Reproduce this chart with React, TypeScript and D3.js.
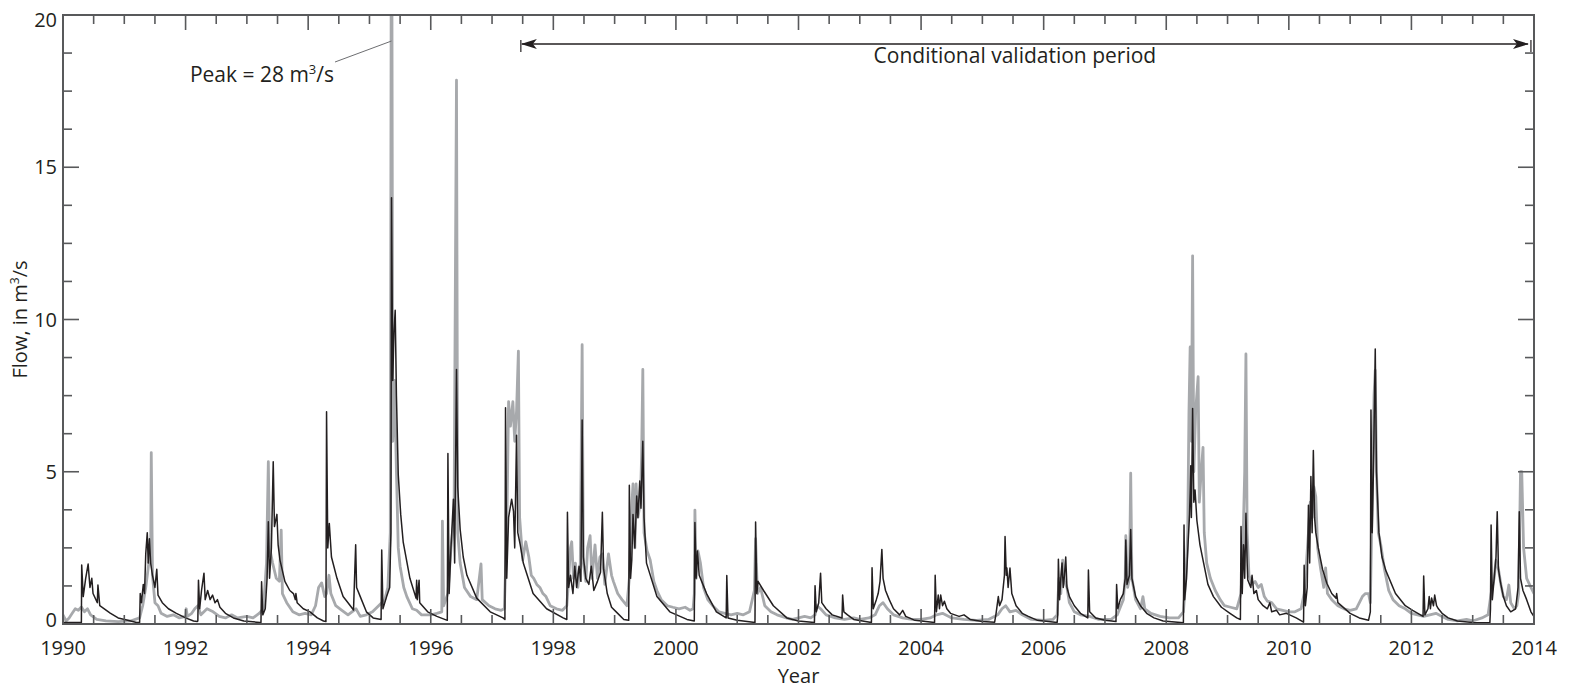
import React from 'react';
import * as d3 from 'd3';

// Observed flow (gray), [decimal year, m3/s]
const observed: [number, number][] = [
  [1990.0,0.3],[1990.05,0.1],[1990.1,0.2],[1990.15,0.35],[1990.2,0.5],[1990.25,0.45],[1990.3,0.56],[1990.35,0.4],[1990.4,0.5],[1990.45,0.3],[1990.55,0.15],[1990.7,0.1],[1990.9,0.08],[1991.1,0.1],[1991.25,0.2],
  [1991.3,0.6],[1991.35,1.2],[1991.4,2.0],[1991.43,2.3],[1991.44,5.63],[1991.46,1.6],[1991.5,0.7],[1991.55,0.6],[1991.6,0.35],[1991.7,0.25],[1991.8,0.3],[1991.9,0.2],[1992.0,0.25],[1992.01,0.5],[1992.03,0.25],[1992.1,0.35],[1992.15,0.5],[1992.2,0.6],[1992.25,0.3],[1992.35,0.5],[1992.45,0.4],[1992.55,0.25],[1992.65,0.2],[1992.75,0.3],[1992.85,0.2],[1993.0,0.25],[1993.1,0.2],[1993.2,0.35],
  [1993.27,0.5],[1993.32,2.0],[1993.35,5.33],[1993.37,2.5],[1993.42,2.0],[1993.48,1.5],[1993.53,1.4],[1993.56,3.08],[1993.58,1.0],[1993.65,0.7],[1993.75,0.4],[1993.85,0.3],[1993.95,0.35],[1994.05,0.3],[1994.12,0.6],[1994.17,1.2],[1994.22,1.35],[1994.27,0.9],[1994.3,1.0],[1994.34,1.6],[1994.37,1.0],[1994.45,0.6],[1994.55,0.45],[1994.65,0.3],[1994.78,0.5],[1994.85,0.25],[1994.95,0.3],[1995.05,0.4],[1995.15,0.6],[1995.25,0.8],[1995.3,1.2],[1995.34,3.0],
  [1995.36,28],[1995.38,6.0],[1995.41,8.0],[1995.44,5.0],[1995.47,2.5],[1995.5,1.9],[1995.56,1.2],[1995.61,0.9],[1995.7,0.5],[1995.77,0.45],[1995.85,0.3],[1996.0,0.3],[1996.1,0.35],[1996.18,0.4],[1996.19,3.38],[1996.21,0.6],[1996.28,1.0],[1996.33,2.5],[1996.38,3.5],[1996.42,17.86],[1996.44,3.0],[1996.48,2.0],[1996.55,1.2],[1996.65,0.9],[1996.75,0.8],[1996.82,1.97],[1996.84,0.8],[1996.95,0.6],[1997.05,0.5],[1997.15,0.45],[1997.2,0.5],
  [1997.24,3.0],[1997.27,7.3],[1997.3,6.5],[1997.34,7.3],[1997.37,6.0],[1997.4,7.0],[1997.43,8.96],[1997.45,3.5],[1997.5,2.1],[1997.55,2.7],[1997.6,2.2],[1997.64,1.6],[1997.68,1.5],[1997.73,1.3],[1997.78,1.2],[1997.83,1.0],[1997.88,0.9],[1997.95,0.6],[1998.05,0.5],[1998.15,0.45],[1998.22,0.6],
  [1998.25,1.5],[1998.28,2.5],[1998.3,2.7],[1998.33,1.5],[1998.36,2.0],[1998.4,1.2],[1998.44,2.0],[1998.47,9.17],[1998.49,2.0],[1998.53,1.4],[1998.56,2.5],[1998.6,2.9],[1998.63,1.5],[1998.68,2.6],[1998.72,1.5],[1998.76,2.2],[1998.8,2.3],[1998.84,1.3],[1998.9,2.3],[1998.95,1.6],[1998.98,1.4],[1999.05,1.0],[1999.12,0.8],[1999.2,0.6],
  [1999.24,1.5],[1999.27,3.5],[1999.3,4.6],[1999.33,2.5],[1999.35,4.6],[1999.38,3.5],[1999.42,4.0],[1999.44,5.5],[1999.46,8.36],[1999.48,3.0],[1999.53,2.4],[1999.58,2.1],[1999.64,1.4],[1999.69,1.1],[1999.76,0.8],[1999.86,0.6],[1999.95,0.55],[2000.05,0.5],[2000.15,0.55],[2000.23,0.45],[2000.28,0.5],
  [2000.3,1.0],[2000.31,3.74],[2000.33,1.5],[2000.36,2.4],[2000.4,2.0],[2000.45,1.2],[2000.52,0.8],[2000.6,0.6],[2000.7,0.4],[2000.8,0.35],[2000.9,0.3],[2001.0,0.35],[2001.1,0.3],[2001.2,0.4],[2001.28,1.1],[2001.3,2.8],[2001.33,1.0],[2001.38,1.2],[2001.45,0.6],[2001.55,0.4],[2001.65,0.3],[2001.8,0.2],[2001.9,0.15],[2002.0,0.2],[2002.1,0.25],[2002.2,0.2],
  [2002.27,0.3],[2002.3,0.6],[2002.36,0.5],[2002.45,0.3],[2002.6,0.2],[2002.75,0.15],[2002.9,0.2],[2003.0,0.15],[2003.15,0.2],[2003.25,0.3],[2003.32,0.6],[2003.38,0.7],[2003.45,0.5],[2003.55,0.3],[2003.7,0.2],[2003.85,0.15],[2004.0,0.15],[2004.15,0.2],[2004.25,0.3],[2004.35,0.35],[2004.5,0.2],[2004.7,0.15],[2004.9,0.12],[2005.1,0.15],
  [2005.25,0.3],[2005.32,0.5],[2005.38,0.6],[2005.45,0.4],[2005.55,0.45],[2005.65,0.3],[2005.8,0.15],[2006.0,0.12],[2006.15,0.15],[2006.22,0.3],[2006.25,1.5],[2006.28,1.0],[2006.31,2.1],[2006.34,1.4],[2006.38,1.2],[2006.42,0.7],[2006.5,0.4],[2006.6,0.3],[2006.75,0.25],[2006.9,0.15],[2007.1,0.15],
  [2007.2,0.3],[2007.26,0.6],[2007.3,0.8],[2007.33,1.5],[2007.34,2.9],[2007.37,1.2],[2007.4,1.5],[2007.42,4.95],[2007.44,1.5],[2007.5,0.8],[2007.58,0.5],[2007.62,0.9],[2007.65,0.5],[2007.75,0.35],[2007.9,0.25],[2008.05,0.2],[2008.2,0.2],
  [2008.28,0.4],[2008.32,1.5],[2008.35,3.0],[2008.37,6.9],[2008.39,9.1],[2008.41,6.0],[2008.43,12.09],[2008.45,5.0],[2008.48,7.0],[2008.52,8.12],[2008.54,4.0],[2008.57,5.0],[2008.6,5.8],[2008.62,3.0],[2008.66,2.0],[2008.72,1.5],[2008.8,1.1],[2008.88,0.8],[2008.95,0.6],[2009.05,0.55],[2009.15,0.5],
  [2009.22,1.0],[2009.25,2.5],[2009.28,5.0],[2009.3,8.87],[2009.32,3.0],[2009.35,1.6],[2009.4,1.3],[2009.45,1.4],[2009.5,1.2],[2009.55,1.3],[2009.6,0.9],[2009.65,0.75],[2009.72,0.7],[2009.8,0.5],[2009.9,0.45],[2010.0,0.4],[2010.1,0.4],[2010.2,0.5],
  [2010.25,1.0],[2010.28,1.8],[2010.32,3.0],[2010.35,4.0],[2010.38,3.5],[2010.41,4.5],[2010.44,4.18],[2010.47,2.5],[2010.52,1.8],[2010.57,1.2],[2010.6,1.84],[2010.63,1.0],[2010.7,0.8],[2010.8,0.6],[2010.9,0.5],[2011.0,0.45],[2011.1,0.5],[2011.2,0.9],[2011.25,1.0],[2011.3,1.0],[2011.33,0.7],
  [2011.36,4.0],[2011.39,7.5],[2011.41,8.34],[2011.43,5.0],[2011.46,3.0],[2011.5,2.6],[2011.56,1.8],[2011.63,1.1],[2011.7,0.8],[2011.8,0.6],[2011.9,0.5],[2012.0,0.35],[2012.1,0.3],[2012.2,0.25],[2012.3,0.3],[2012.4,0.35],[2012.5,0.25],[2012.6,0.15],[2012.75,0.1],[2012.9,0.15],[2013.0,0.1],[2013.15,0.2],
  [2013.25,0.3],[2013.3,1.0],[2013.35,1.5],[2013.38,2.1],[2013.42,1.8],[2013.46,1.3],[2013.5,0.9],[2013.55,0.8],[2013.59,1.28],[2013.62,0.7],[2013.68,0.5],[2013.72,0.6],[2013.75,1.0],[2013.78,5.0],[2013.8,5.0],[2013.83,2.5],[2013.88,1.5],[2013.95,1.2],[2014.0,1.0],
];

// Simulated flow (black), [decimal year, m3/s]
const simulated: [number, number][] = [
  [1990.0,0.05],[1990.3,0.05],[1990.305,1.94],[1990.33,0.9],[1990.37,1.5],[1990.41,1.97],[1990.44,1.2],[1990.47,1.5],[1990.49,1.0],[1990.56,0.7],[1990.57,1.28],[1990.6,0.6],[1990.77,0.36],[1990.9,0.2],[1991.04,0.13],[1991.2,0.05],
  [1991.25,0.05],[1991.26,1.0],[1991.28,0.7],[1991.31,1.3],[1991.33,1.0],[1991.35,2.3],[1991.375,3.0],[1991.39,2.0],[1991.41,2.8],[1991.43,2.0],[1991.46,1.6],[1991.5,1.2],[1991.53,1.8],[1991.55,0.95],[1991.62,0.7],[1991.72,0.5],[1991.85,0.35],[1992.0,0.2],[1992.13,0.1],[1992.19,0.08],
  [1992.2,0.1],[1992.21,1.44],[1992.23,0.5],[1992.26,1.1],[1992.3,1.67],[1992.32,0.8],[1992.36,1.1],[1992.4,0.8],[1992.44,0.95],[1992.48,0.7],[1992.52,0.8],[1992.56,0.55],[1992.65,0.35],[1992.78,0.2],[1992.95,0.1],[1993.21,0.05],
  [1993.23,0.05],[1993.24,1.39],[1993.26,0.3],[1993.3,0.5],[1993.33,1.5],[1993.35,3.36],[1993.37,1.5],[1993.4,2.5],[1993.43,5.33],[1993.45,3.2],[1993.49,3.6],[1993.51,2.6],[1993.54,2.1],[1993.62,1.4],[1993.7,1.1],[1993.76,1.0],[1993.79,0.8],[1993.8,1.0],[1993.82,0.7],[1993.92,0.5],[1994.03,0.4],[1994.15,0.2],[1994.25,0.1],[1994.29,0.08],
  [1994.3,6.97],[1994.32,2.5],[1994.345,3.3],[1994.38,2.2],[1994.47,1.5],[1994.57,0.9],[1994.65,0.7],[1994.74,0.46],[1994.775,2.6],[1994.79,1.2],[1994.85,0.9],[1994.95,0.4],[1995.06,0.2],[1995.19,0.15],[1995.2,2.43],[1995.22,0.5],[1995.28,0.9],[1995.33,1.2],[1995.35,3.0],
  [1995.36,14.0],[1995.38,8.0],[1995.4,9.6],[1995.42,10.3],[1995.44,7.5],[1995.47,4.9],[1995.51,3.6],[1995.55,2.7],[1995.66,1.5],[1995.76,0.85],[1995.77,1.44],[1995.78,0.8],[1995.81,1.44],[1995.82,0.7],[1995.95,0.4],[1996.1,0.25],[1996.27,0.12],
  [1996.28,5.6],[1996.3,1.0],[1996.33,2.5],[1996.37,4.1],[1996.39,2.0],[1996.42,8.36],[1996.44,4.5],[1996.48,3.1],[1996.53,2.2],[1996.59,1.6],[1996.75,0.85],[1996.97,0.4],[1997.18,0.2],[1997.21,0.15],
  [1997.22,7.1],[1997.24,1.5],[1997.27,3.5],[1997.32,4.1],[1997.35,3.7],[1997.37,2.5],[1997.4,6.2],[1997.42,3.0],[1997.46,2.6],[1997.51,2.0],[1997.67,1.0],[1997.89,0.5],[1998.16,0.2],[1998.22,0.15],
  [1998.23,3.67],[1998.25,1.2],[1998.28,1.6],[1998.32,1.0],[1998.35,1.9],[1998.38,1.2],[1998.42,1.9],[1998.45,1.4],[1998.47,6.7],[1998.49,2.2],[1998.53,1.5],[1998.58,1.3],[1998.62,1.9],[1998.66,1.1],[1998.72,1.4],[1998.77,1.7],[1998.8,3.67],[1998.82,1.8],[1998.88,1.0],[1998.95,0.55],[1999.05,0.35],[1999.15,0.15],[1999.23,0.12],
  [1999.24,4.56],[1999.26,1.5],[1999.28,2.1],[1999.3,3.6],[1999.33,2.5],[1999.36,4.2],[1999.38,3.5],[1999.41,4.7],[1999.43,3.8],[1999.46,6.0],[1999.48,3.5],[1999.52,2.0],[1999.69,0.9],[1999.9,0.4],[2000.18,0.15],[2000.3,0.1],
  [2000.31,3.33],[2000.33,1.5],[2000.35,2.4],[2000.38,1.6],[2000.42,1.4],[2000.5,1.0],[2000.66,0.4],[2000.82,0.2],[2000.83,1.59],[2000.85,0.2],[2001.0,0.12],[2001.29,0.05],
  [2001.3,3.35],[2001.32,1.0],[2001.34,1.4],[2001.43,1.1],[2001.59,0.6],[2001.81,0.2],[2002.0,0.1],[2002.26,0.05],
  [2002.27,1.26],[2002.29,0.4],[2002.33,0.7],[2002.36,1.67],[2002.38,0.7],[2002.45,0.5],[2002.55,0.3],[2002.71,0.2],[2002.72,0.95],[2002.74,0.4],[2002.8,0.3],[2002.9,0.15],[2003.19,0.05],
  [2003.2,1.85],[2003.22,0.5],[2003.27,0.8],[2003.3,1.0],[2003.33,1.4],[2003.36,2.45],[2003.38,1.5],[2003.42,1.1],[2003.48,0.8],[2003.55,0.5],[2003.65,0.3],[2003.7,0.45],[2003.75,0.25],[2003.9,0.12],[2004.22,0.05],
  [2004.23,1.6],[2004.25,0.4],[2004.28,0.95],[2004.3,0.5],[2004.32,0.95],[2004.35,0.6],[2004.38,0.75],[2004.42,0.5],[2004.48,0.35],[2004.55,0.3],[2004.62,0.25],[2004.7,0.3],[2004.8,0.15],[2005.0,0.08],[2005.2,0.06],
  [2005.22,0.3],[2005.26,0.9],[2005.28,0.6],[2005.32,0.8],[2005.36,1.6],[2005.37,2.87],[2005.39,1.6],[2005.4,1.84],[2005.42,1.2],[2005.45,1.84],[2005.48,1.0],[2005.55,0.6],[2005.65,0.35],[2005.75,0.25],[2005.9,0.12],[2006.22,0.05],
  [2006.23,0.3],[2006.24,2.13],[2006.26,0.8],[2006.28,1.5],[2006.3,2.0],[2006.32,1.2],[2006.34,1.6],[2006.36,2.2],[2006.38,1.2],[2006.42,0.9],[2006.5,0.6],[2006.6,0.35],[2006.72,0.2],[2006.73,1.77],[2006.75,0.4],[2006.85,0.2],[2007.0,0.12],[2007.18,0.08],
  [2007.19,1.3],[2007.21,0.5],[2007.25,0.8],[2007.3,1.0],[2007.33,1.5],[2007.34,2.76],[2007.36,1.3],[2007.4,1.6],[2007.42,3.1],[2007.44,1.5],[2007.5,0.9],[2007.58,0.6],[2007.68,0.35],[2007.8,0.2],[2007.95,0.1],[2008.28,0.04],
  [2008.29,3.25],[2008.3,0.8],[2008.33,1.5],[2008.36,2.8],[2008.38,3.6],[2008.4,5.2],[2008.41,3.5],[2008.43,7.08],[2008.45,4.0],[2008.47,4.4],[2008.5,3.4],[2008.55,2.6],[2008.61,2.0],[2008.68,1.3],[2008.77,0.9],[2008.9,0.55],[2009.04,0.35],[2009.15,0.2],[2009.21,0.15],
  [2009.22,3.2],[2009.24,1.0],[2009.26,2.6],[2009.28,1.5],[2009.3,3.64],[2009.32,2.0],[2009.33,1.45],[2009.38,1.2],[2009.4,1.6],[2009.43,1.0],[2009.47,1.1],[2009.5,0.8],[2009.58,0.6],[2009.65,0.5],[2009.69,0.7],[2009.72,0.4],[2009.8,0.45],[2009.85,0.3],[2009.96,0.35],[2010.12,0.2],[2010.24,0.06],
  [2010.25,1.93],[2010.27,0.6],[2010.3,1.2],[2010.32,3.9],[2010.34,2.0],[2010.36,4.84],[2010.38,3.0],[2010.4,5.7],[2010.42,3.5],[2010.44,3.0],[2010.48,2.5],[2010.55,1.8],[2010.62,1.34],[2010.7,1.0],[2010.77,0.85],[2010.78,1.0],[2010.8,0.7],[2011.0,0.35],[2011.15,0.2],[2011.3,0.12],
  [2011.33,0.4],[2011.34,7.03],[2011.36,3.0],[2011.38,5.0],[2011.41,9.03],[2011.43,5.0],[2011.47,3.0],[2011.52,2.2],[2011.58,1.77],[2011.74,1.0],[2011.9,0.6],[2012.02,0.45],[2012.19,0.25],
  [2012.2,1.58],[2012.22,0.3],[2012.27,0.5],[2012.29,0.9],[2012.31,0.5],[2012.33,0.85],[2012.36,0.6],[2012.38,0.95],[2012.41,0.6],[2012.44,0.5],[2012.5,0.35],[2012.6,0.2],[2012.75,0.1],[2013.0,0.05],[2013.28,0.04],
  [2013.29,0.5],[2013.3,3.25],[2013.32,0.8],[2013.35,1.5],[2013.38,2.2],[2013.4,3.69],[2013.42,1.8],[2013.45,1.4],[2013.5,0.9],[2013.55,0.6],[2013.62,0.4],[2013.7,0.5],[2013.74,1.2],[2013.76,3.69],[2013.78,1.5],[2013.82,1.1],[2013.88,0.8],[2013.95,0.4],[2014.0,0.24],
];

const xTickLabels = [1990, 1992, 1994, 1996, 1998, 2000, 2002, 2004, 2006, 2008, 2010, 2012, 2014];
const yTickLabels = [0, 5, 10, 15, 20];
const validationPeriod = [1997.47, 2013.95];
const peakLabel = { year: 1995.36, value: 28 };

const W = 1571, H = 691;
const M = { left: 63, right: 37, top: 15, bottom: 67 };
const FONT = "'Open Sans', 'Noto Sans', sans-serif";
const AXIS = '#58595b';

export default function App() {
  const x = d3.scaleLinear().domain([1990, 2014]).range([M.left, W - M.right]);
  const y = d3.scaleLinear().domain([0, 20]).range([H - M.bottom, M.top]);
  const line = d3.line<[number, number]>().x(d => x(d[0])).y(d => y(d[1]));
  const x0 = M.left, x1 = W - M.right, y0 = H - M.bottom, y1 = M.top;
  const xMinor = d3.range(1990, 2014.001, 0.5);
  const yMinor = d3.range(0, 20.001, 1.25);
  const isMajorX = (v: number) => Math.abs(v / 2 - Math.round(v / 2)) < 1e-6;
  const isMajorY = (v: number) => Math.abs(v / 5 - Math.round(v / 5)) < 1e-6;
  const arrowY = 44;
  const ax0 = x(validationPeriod[0]), ax1 = x(validationPeriod[1]);
  const px = x(peakLabel.year);

  return (
    <div style={{ position: 'absolute', left: 0, top: 0 }}>
      <svg width={W} height={H} style={{ display: 'block', background: '#fff' }}>
        <defs>
          <clipPath id="plot">
            <rect x={x0} y={y1} width={x1 - x0} height={y0 - y1} />
          </clipPath>
          <marker id="ah" viewBox="0 0 16 10" refX="15" refY="5" markerWidth="16" markerHeight="10" markerUnits="userSpaceOnUse" orient="auto-start-reverse">
            <path d="M0,0 L16,5 L0,10 L4,5 Z" fill="#231f20" />
          </marker>
        </defs>
        <g clipPath="url(#plot)">
          <path d={line(observed) || ''} fill="none" stroke="#a7a9ac" strokeWidth={2.8} strokeLinejoin="round" />
          <path d={line(simulated) || ''} fill="none" stroke="#231f20" strokeWidth={1.5} strokeLinejoin="round" />
        </g>
        {xMinor.map(v => {
          const len = isMajorX(v) ? 15 : 9;
          return (
            <g key={'xt' + v} stroke={AXIS} strokeWidth={1.6}>
              <line x1={x(v)} x2={x(v)} y1={y0} y2={y0 - len} />
              <line x1={x(v)} x2={x(v)} y1={y1} y2={y1 + len} />
            </g>
          );
        })}
        {yMinor.map(v => {
          const len = isMajorY(v) ? 16 : 9;
          return (
            <g key={'yt' + v} stroke={AXIS} strokeWidth={1.6}>
              <line x1={x0} x2={x0 + len} y1={y(v)} y2={y(v)} />
              <line x1={x1} x2={x1 - len} y1={y(v)} y2={y(v)} />
            </g>
          );
        })}
        <rect x={x0} y={y1} width={x1 - x0} height={y0 - y1} fill="none" stroke={AXIS} strokeWidth={2} />
        {xTickLabels.map(v => (
          <text key={'xl' + v} x={x(v)} y={y0 + 31} textAnchor="middle" fontFamily={FONT} fontSize={20} fill="#231f20">{v}</text>
        ))}
        {yTickLabels.map(v => (
          <text key={'yl' + v} x={x0 - 6} y={Math.min(Math.max(y(v) + 7, 27), y0 + 3)} textAnchor="end" fontFamily={FONT} fontSize={20} fill="#231f20">{v}</text>
        ))}
        <text x={(x0 + x1) / 2} y={H - 8} textAnchor="middle" fontFamily={FONT} fontSize={20} fill="#231f20">Year</text>
        <text transform={`translate(27,${(y0 + y1) / 2}) rotate(-90)`} textAnchor="middle" fontFamily={FONT} fontSize={20} fill="#231f20">
          Flow, in m<tspan fontSize={12} dy={-8}>3</tspan><tspan dy={8}>/s</tspan>
        </text>
        <line x1={ax0} x2={ax0} y1={arrowY - 4} y2={arrowY + 8} stroke="#231f20" strokeWidth={1.2} />
        <line x1={ax1} x2={ax1} y1={arrowY - 4} y2={arrowY + 8} stroke="#231f20" strokeWidth={1.2} />
        <line x1={ax0 + 1} x2={ax1 - 3} y1={arrowY} y2={arrowY} stroke="#231f20" strokeWidth={1.3} markerStart="url(#ah)" markerEnd="url(#ah)" />
        <text x={(ax0 + ax1) / 2 - 11} y={63} textAnchor="middle" fontFamily={FONT} fontSize={21} fill="#231f20">Conditional validation period</text>
        <line x1={335} y1={62} x2={px} y2={41} stroke="#6d6e71" strokeWidth={1} />
        <text x={334} y={82} textAnchor="end" fontFamily={FONT} fontSize={21} fill="#231f20">
          Peak = 28 m<tspan fontSize={13} dy={-8}>3</tspan><tspan dy={8}>/s</tspan>
        </text>
      </svg>
    </div>
  );
}
